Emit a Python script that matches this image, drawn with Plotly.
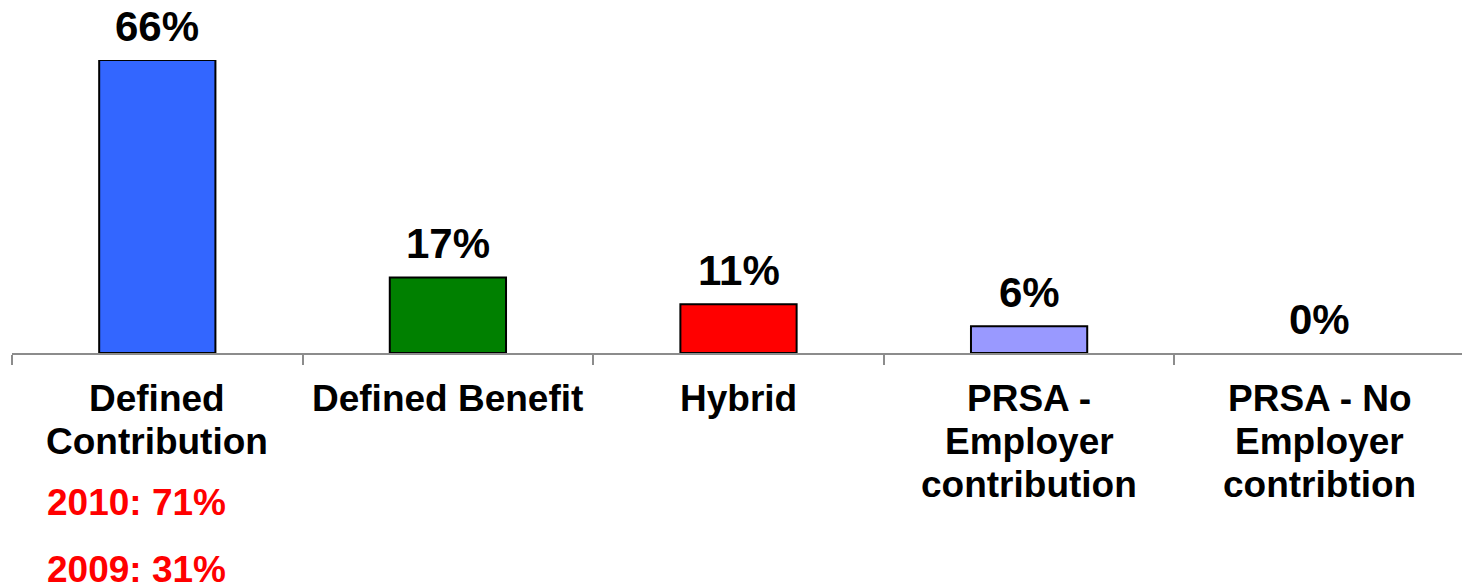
import plotly.graph_objects as go

categories = ["Defined Contribution", "Defined Benefit", "Hybrid",
              "PRSA - Employer contribution", "PRSA - No Employer contribtion"]
label_lines = [["Defined", "Contribution"], ["Defined Benefit"], ["Hybrid"],
               ["PRSA -", "Employer", "contribution"], ["PRSA - No", "Employer", "contribtion"]]
values = [66, 17, 11, 6, 0]
value_labels = ["66%", "17%", "11%", "6%", "0%"]
colors = ["#3366FF", "#008000", "#FF0000", "#9999FF", "#9999FF"]
notes = ["2010: 71%", "2009: 31%"]

FONT = "Liberation Sans, Arial, sans-serif"

fig = go.Figure()
fig.add_trace(go.Bar(
    x=categories, y=values, width=0.4,
    marker=dict(color=colors,
                line=dict(color="black", width=[2 if v > 0 else 0 for v in values])),
    hoverinfo="skip",
))

ann = []
for c, v, t in zip(categories, values, value_labels):
    ann.append(dict(x=c, y=v, xref="x", yref="y", text=t, showarrow=False,
                    yanchor="middle", yshift=34,
                    font=dict(family=FONT, size=42, color="black", weight="bold")))
for c, lines in zip(categories, label_lines):
    for i, ln in enumerate(lines):
        ann.append(dict(x=c, y=0, xref="x", yref="paper", text=ln, showarrow=False,
                        yanchor="middle", yshift=-45 - 43 * i,
                        font=dict(family=FONT, size=37, color="black", weight="bold")))
for i, n in enumerate(notes):
    ann.append(dict(x=categories[0], y=0, xref="x", yref="paper", text=n, showarrow=False,
                    xanchor="left", xshift=-112, yanchor="middle", yshift=-149 - 67 * i,
                    font=dict(family=FONT, size=37, color="#FF0000", weight="bold")))

fig.update_layout(
    width=1470, height=587,
    margin=dict(l=4, r=13, t=52, b=242),
    paper_bgcolor="white", plot_bgcolor="white",
    showlegend=False, annotations=ann,
    xaxis=dict(showline=True, linecolor="#8c8c8c", linewidth=2,
               ticks="outside", tickson="boundaries", ticklen=10, tickcolor="#8c8c8c",
               tickwidth=2, showticklabels=False, showgrid=False,
               range=[-0.5, 4.5], fixedrange=True),
    yaxis=dict(range=[0, 66], visible=False, showgrid=False, fixedrange=True),
)

fig.write_html("out.html")
